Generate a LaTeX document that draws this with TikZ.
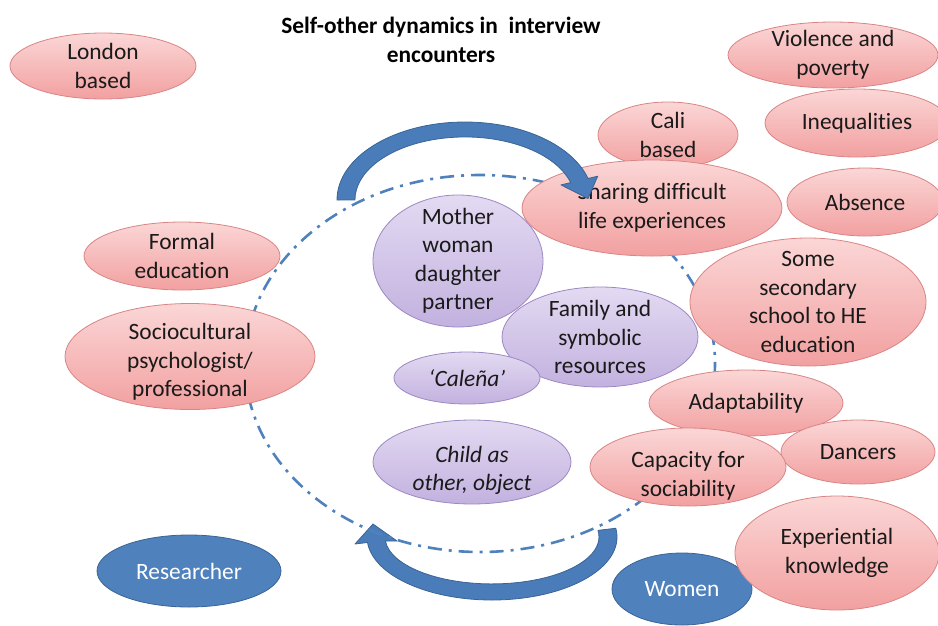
\documentclass[tikz,border=0pt]{standalone}
\usepackage{fontspec}
\setmainfont{Carlito}[Ligatures=NoCommon]
\usetikzlibrary{shapes.geometric}

\definecolor{pinkTop}{HTML}{FBD6D6}
\definecolor{pinkBot}{HTML}{F2A0A0}
\definecolor{pinkLine}{HTML}{D98585}
\definecolor{lilacTop}{HTML}{E3DAF2}
\definecolor{lilacBot}{HTML}{C2B1DF}
\definecolor{lilacLine}{HTML}{9C88C2}
\definecolor{blueFill}{HTML}{4F81BD}
\definecolor{blueLine}{HTML}{3A6495}
\definecolor{arrowFill}{HTML}{4A7CB9}
\definecolor{dashBlue}{HTML}{4F81BD}
\definecolor{inkText}{HTML}{1A1A1A}

\tikzset{
  bubble/.style={ellipse, inner sep=-60pt, align=center, line width=0.8pt,
    font=\fontsize{23.4}{28.5}\selectfont, text=inkText},
  pinkb/.style={bubble, draw=pinkLine, top color=pinkTop, bottom color=pinkBot},
  lilacb/.style={bubble, draw=lilacLine, top color=lilacTop, bottom color=lilacBot},
  blueb/.style={bubble, draw=blueLine, fill=blueFill, text=white},
  words/.style={align=center, inner sep=0pt,
    font=\fontsize{23.4}{28.5}\selectfont, text=inkText},
  sz/.style 2 args={minimum width=#1pt, minimum height=#2pt},
  bigarrow/.style={fill=arrowFill, draw=blueLine, line width=0.8pt, line join=round},
  orbit/.style={draw=dashBlue, line width=2.6pt,
    dash pattern=on 14pt off 7pt on 3pt off 7pt}
}

\begin{document}
\begin{tikzpicture}[x=1pt,y=-1pt]
\useasboundingbox (0,0) rectangle (938,625);

% title
\node[align=center, font=\bfseries\fontsize{23.4}{29}\selectfont, text=black]
  (title) at (441,40) {Self-other dynamics in\ \ interview\\encounters};

% lower curved arrow (right end, down round to the left, pointing up)
\fill[bigarrow]
  (492,537) ++(-8:125 and 63) coordinate (lowStart)
  arc[start angle=-8, end angle=175, x radius=125, y radius=63]
  -- (355,544) -- (373,524) -- (397,541)
  -- ++(-11.6,0) coordinate (lowInner)
  arc[start angle=175, end angle=-8, x radius=107, y radius=47]
  -- cycle;

% dash-dot orbit
\draw[orbit] (480,363.5) ellipse[x radius=235, y radius=188.5];

% left column
\node[pinkb, sz={186}{66}] (london) at (103,66) {London\\based};
\node[pinkb, sz={196}{68}] (formal) at (182,256) {Formal\\education};
\node[pinkb, sz={250}{106}] (socio) at (190,356.5) {};
\node[words] (sociotext) at (190,362) {Sociocultural\\psychologist/\\professional};
\node[blueb, sz={184}{72}] (researcher) at (189,571) {Researcher};

% top right cluster
\node[pinkb, sz={210}{66}] (violence) at (833,55) {Violence and\\poverty};
\node[pinkb, sz={184}{68}] (inequal) at (857,123) {Inequalities};
\node[pinkb, sz={140}{66}] (cali) at (668,135) {Cali\\based};
\node[pinkb, sz={260}{96}] (sharing) at (652,208) {Sharing difficult\\life experiences};
\node[pinkb, sz={156}{68}] (absence) at (865,202) {Absence};
\node[pinkb, sz={236}{128}] (secondary) at (808,302) {Some\\secondary\\school to HE\\education};

% inner self
\node[lilacb, sz={170}{132}] (mother) at (458,261) {Mother\\woman\\daughter\\partner};
\node[lilacb, sz={196}{100}] (family) at (600,337) {Family and\\symbolic\\resources};
\node[lilacb, sz={146}{52}] (calena) at (467,378) {\itshape `Caleña'};
\node[lilacb, sz={198}{84}] (child) at (472,462) {};
\node[words] (childtext) at (472,470.5) {\itshape Child as\\\itshape other, object};

% lower right cluster
\node[pinkb, sz={194}{66}] (adapt) at (746,403) {Adaptability};
\node[pinkb, sz={154}{64}] (dancers) at (858,452) {Dancers};
\node[pinkb, sz={196}{78}] (capacity) at (688,467) {};
\node[words] (capacitytext) at (688,476) {Capacity for\\sociability};
\node[blueb, sz={140}{72}] (women) at (682,589) {Women};
\node[pinkb, sz={204}{114}] (experiential) at (837,553) {Experiential\\knowledge};

% upper curved arrow (left end, over the top, pointing into the right cluster)
\fill[bigarrow]
  (465,200) ++(180:128 and 78) coordinate (topStart)
  arc[start angle=180, end angle=344, x radius=128, y radius=78]
  -- (597.7,176.2) -- (588,198.6) -- (561,184.9)
  -- (570.7,182.6)
  arc[start angle=344, end angle=180, x radius=110, y radius=63]
  -- cycle;
\end{tikzpicture}
\end{document}
